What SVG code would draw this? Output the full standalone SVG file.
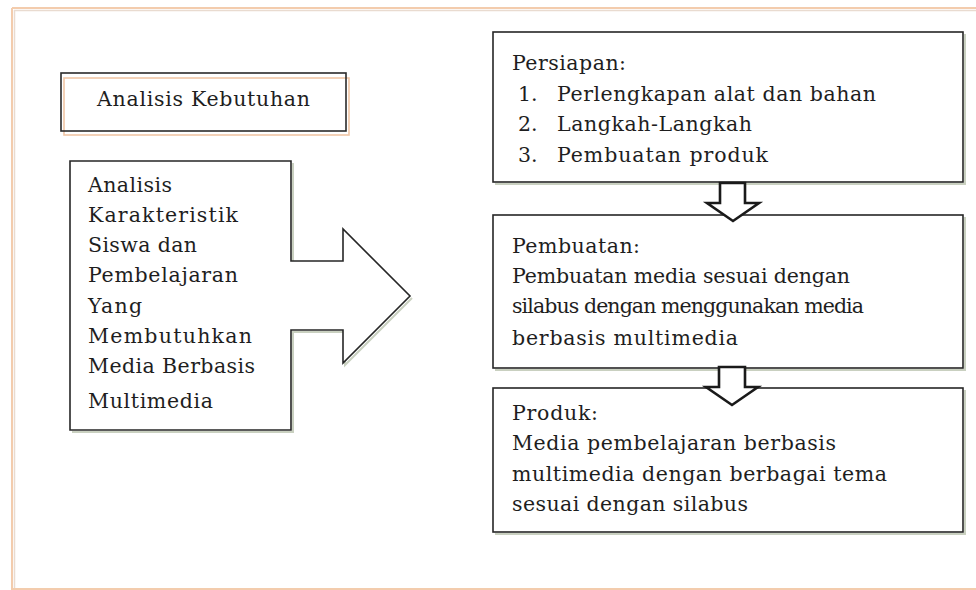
<svg xmlns="http://www.w3.org/2000/svg" width="976" height="590" viewBox="0 0 976 590">
<style>
.frame{fill:none;stroke:#f3ccad;stroke-width:2}
.frame2{fill:none;stroke:#e9dbd0;stroke-width:1.5}
.shadow{fill:none;stroke:#c9d0c0;stroke-width:2}
.box{fill:#fff;stroke:#262626;stroke-width:1.6}
.barrow{fill:#fff;stroke:#1a1a1a;stroke-width:2.6;stroke-linejoin:miter}
text{font-family:"DejaVu Serif","Liberation Serif",serif;font-size:20.5px;fill:#1e1e1e}
</style>
<rect width="976" height="590" fill="#fff"/>
<g id="frame">
<line class="frame" x1="12" y1="8" x2="976" y2="8"/>
<line class="frame2" x1="14" y1="10.5" x2="976" y2="10.5"/>
<line class="frame" x1="12" y1="8" x2="12" y2="590"/>
<line class="frame2" x1="14.5" y1="10" x2="14.5" y2="590"/>
<line class="frame" x1="12" y1="589" x2="976" y2="589"/>
</g>
<g id="analisis-kebutuhan">
<rect x="64" y="78" width="285" height="57" fill="none" stroke="#f0c6a6" stroke-width="1.6"/>
<rect x="61" y="73" width="285" height="58" fill="none" stroke="#2a2a2a" stroke-width="1.6"/>
<text x="97" y="106" textLength="213">Analisis Kebutuhan</text>
</g>
<g id="analisis-karakteristik">
<path class="shadow" d="M72,432 H293 V332 H345 V365 L412,298 M345,231 V263 H293 M293,163 V263"/>
<path class="box" d="M70,161 H291 V261 H343 V229 L410,296 L343,363 V330 H291 V430 H70 Z"/>
<text x="88" y="192" textLength="84">Analisis</text>
<text x="88" y="222" textLength="150">Karakteristik</text>
<text x="88" y="252" textLength="109">Siswa dan</text>
<text x="88" y="282" textLength="150">Pembelajaran</text>
<text x="88" y="313" textLength="54">Yang</text>
<text x="88" y="343" textLength="164">Membutuhkan</text>
<text x="88" y="373" textLength="167">Media Berbasis</text>
<text x="88" y="408" textLength="125">Multimedia</text>
</g>
<g id="persiapan">
<path class="shadow" d="M495,184 H965 V34"/>
<rect class="box" x="493" y="32" width="470" height="150"/>
<text x="512" y="70" textLength="114">Persiapan:</text>
<text x="518" y="101">1.</text>
<text x="557" y="101" textLength="319">Perlengkapan alat dan bahan</text>
<text x="518" y="131">2.</text>
<text x="557" y="131" textLength="195">Langkah-Langkah</text>
<text x="518" y="162">3.</text>
<text x="557" y="162" textLength="211">Pembuatan produk</text>
</g>
<g id="pembuatan">
<path class="shadow" d="M495,370 H965 V217"/>
<rect class="box" x="493" y="215" width="470" height="153"/>
<text x="512" y="253" textLength="128">Pembuatan:</text>
<text x="512" y="283" textLength="338">Pembuatan media sesuai dengan</text>
<text x="512" y="313" textLength="352">silabus dengan menggunakan media</text>
<text x="512" y="345" textLength="226">berbasis multimedia</text>
</g>
<g id="produk">
<path class="shadow" d="M495,534 H965 V390"/>
<rect class="box" x="493" y="388" width="470" height="144"/>
<text x="512" y="420" textLength="86">Produk:</text>
<text x="512" y="450" textLength="324">Media pembelajaran berbasis</text>
<text x="512" y="481" textLength="375">multimedia dengan berbagai tema</text>
<text x="512" y="511" textLength="236">sesuai dengan silabus</text>
</g>
<g id="connectors">
<path class="barrow" d="M720,183 H745 V203 H759 L733,221 L707,203 H720 Z"/>
<path class="barrow" d="M719,367 H745 V387 H758 L732,405 L706,387 H719 Z"/>
</g>
</svg>
